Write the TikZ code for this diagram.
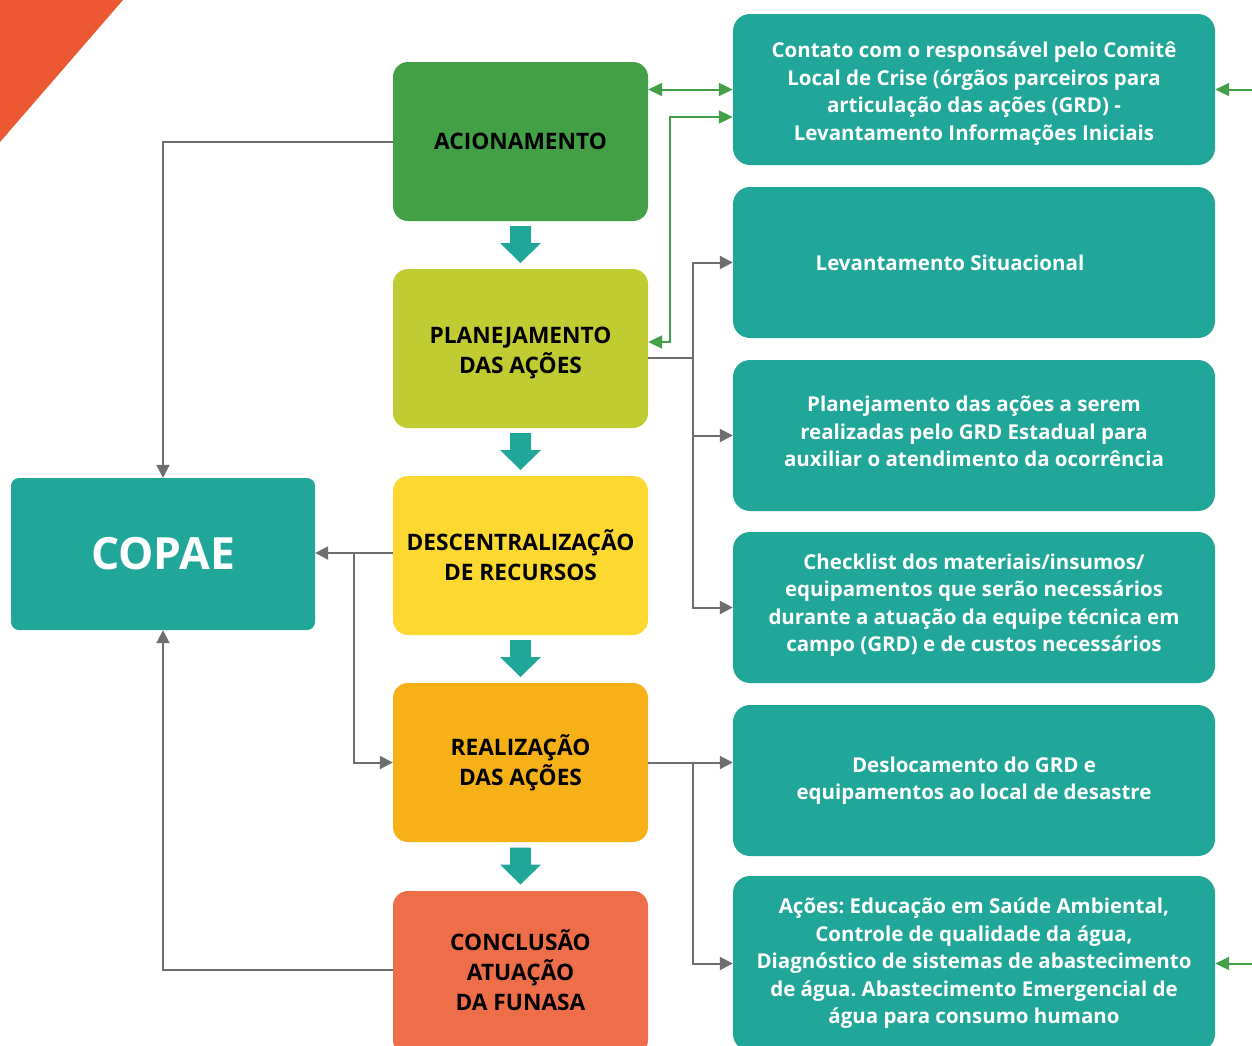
\documentclass[tikz,border=0pt]{standalone}
\usepackage{fontspec}
\setmainfont{Open Sans}
\frenchspacing
\usetikzlibrary{arrows.meta,calc}
\definecolor{cTri}{RGB}{236,88,50}
\definecolor{cAc}{RGB}{67,160,71}
\definecolor{cPl}{RGB}{193,204,51}
\definecolor{cDe}{RGB}{252,216,48}
\definecolor{cRe}{RGB}{246,177,24}
\definecolor{cCo}{RGB}{239,110,74}
\definecolor{cTeal}{RGB}{33,167,154}
\definecolor{cGray}{RGB}{110,110,112}
\definecolor{cGreen}{RGB}{67,160,71}
\tikzset{
  lbox/.style={rectangle, rounded corners=15pt, minimum width=255pt, minimum height=159pt, inner sep=0pt, align=center, text=black, font=\bfseries\fontsize{22.7}{30}\selectfont},
  rbox/.style={rectangle, rounded corners=17pt, fill=cTeal, minimum width=482pt, minimum height=151pt, inner sep=0pt, align=center, text=white, font=\bfseries\fontsize{20.5}{27.5}\selectfont},
  grayline/.style={draw=cGray, line width=2pt, -{Triangle[length=13pt,width=13pt]}},
  greenline/.style={draw=cGreen, line width=2pt},
  gtip/.tip={Triangle[length=14pt,width=13pt]},
}
\newcommand\shiftlines[2]{\raisebox{#1}[\height][\depth]{\begin{tabular}{@{}c@{}}#2\end{tabular}}}
\newcommand\blockdown[1]{%
  \fill[cTeal] ($(#1)+(-10.5,-19)$) -- ($(#1)+(10.5,-19)$) -- ($(#1)+(10.5,-2)$) -- ($(#1)+(20.5,-2)$) -- ($(#1)+(0,18)$) -- ($(#1)+(-20.5,-2)$) -- ($(#1)+(-10.5,-2)$) -- cycle;}
\begin{document}
\begin{tikzpicture}[x=1pt,y=-1pt]
\useasboundingbox (0,0) rectangle (1252,1045);
\clip (0,0) rectangle (1252,1045);
\fill[cTri] (0,0) -- (123,0) -- (0,142) -- cycle;

% left column
\node[lbox, fill=cAc] (acion) at (520.5,141.5) {ACIONAMENTO};
\node[lbox, fill=cPl] (plan) at (520.5,348.5) {\shiftlines{-4pt}{PLANEJAMENTO\\DAS AÇÕES}};
\node[lbox, fill=cDe] (desc) at (520.5,555.5) {DESCENTRALIZAÇÃO\\DE RECURSOS};
\node[lbox, fill=cRe] (real) at (520.5,762.5) {REALIZAÇÃO\\DAS AÇÕES};
\node[lbox, fill=cCo, minimum height=164pt] (concl) at (520.5,973) {\shiftlines{-1pt}{CONCLUSÃO\\ATUAÇÃO\\DA FUNASA}};

% COPAE
\node[rectangle, rounded corners=8pt, fill=cTeal, minimum width=304pt, minimum height=152pt, inner sep=0pt, text=white, font=\bfseries\fontsize{44.4}{50}\selectfont] (copae) at (163,554) {COPAE};

% right column
\node[rbox] (b1) at (974,89.5) {\shiftlines{-4pt}{Contato com o responsável pelo Comitê\\Local de Crise (órgãos parceiros para\\articulação das ações (GRD) -\\Levantamento Informações Iniciais}};
\node[rbox] (b2) at (974,262.5) {\hspace*{-48pt}Levantamento Situacional};
\node[rbox] (b3) at (974,435.5) {\shiftlines{2pt}{Planejamento das ações a serem\\realizadas pelo GRD Estadual para\\auxiliar o atendimento da ocorrência}};
\node[rbox] (b4) at (974,607.5) {\shiftlines{2.5pt}{Checklist dos materiais/insumos/\\equipamentos que serão necessários\\durante a atuação da equipe técnica em\\campo (GRD) e de custos necessários}};
\node[rbox] (b5) at (974,780.5) {Deslocamento do GRD e\\equipamentos ao local de desastre};
\node[rbox, minimum height=175pt] (b6) at (974,963.5) {Ações: Educação em Saúde Ambiental,\\Controle de qualidade da água,\\Diagnóstico de sistemas de abastecimento\\de água. Abastecimento Emergencial de\\água para consumo humano};

% block arrows between left boxes
\path (acion.south) -- (plan.north) coordinate[pos=0.5] (m1);
\path (plan.south) -- (desc.north) coordinate[pos=0.5] (m2);
\path (desc.south) -- (real.north) coordinate[pos=0.5] (m3);
\path (real.south) -- (concl.north) coordinate[pos=0.5] (m4);
\blockdown{m1}\blockdown{m2}\blockdown{m3}\blockdown{m4}

% gray connectors to COPAE
\draw[grayline] (acion.west) -| (copae.north);
\draw[grayline] ($(concl.west)+(0,-3)$) -| (copae.south);
\coordinate (d1) at ($(desc.west)+(0,-2.5)$);
\draw[grayline] (d1) -- (d1 -| copae.east);
\coordinate (k1) at ($(d1)+(-39,0)$);
\draw[grayline] (k1) |- (real.west);

% green connectors
\draw[greenline, gtip-gtip] (acion.east |- b1.west) -- (b1.west);
\coordinate (g1) at ($(b1.west)+(0,27.5)$);
\coordinate (g2) at ($(plan.east)+(0,-6.5)$);
\draw[greenline, gtip-gtip] (g1) -- ++(-63,0) |- (g2);
\coordinate (e1) at (1256,89.5);
\coordinate (e2) at (1256,963.5);
\draw[greenline, -gtip] (e1) -- (b1.east);
\draw[greenline, -gtip] (e2) -- (b6.east);

% gray connectors to right boxes
\coordinate (p1) at ($(plan.east)+(0,9.5)$);
\draw[draw=cGray, line width=2pt] (p1) -- ++(45,0) coordinate (j1);
\draw[grayline] (j1) |- (b2.west);
\draw[grayline] (j1) |- (b3.west);
\draw[grayline] (j1) |- (b4.west);
\coordinate (j2) at ($(real.east)+(45,0)$);
\draw[grayline] (real.east) -- (real.east -| b5.west);
\draw[grayline] (j2) |- (b6.west);
\end{tikzpicture}
\end{document}
